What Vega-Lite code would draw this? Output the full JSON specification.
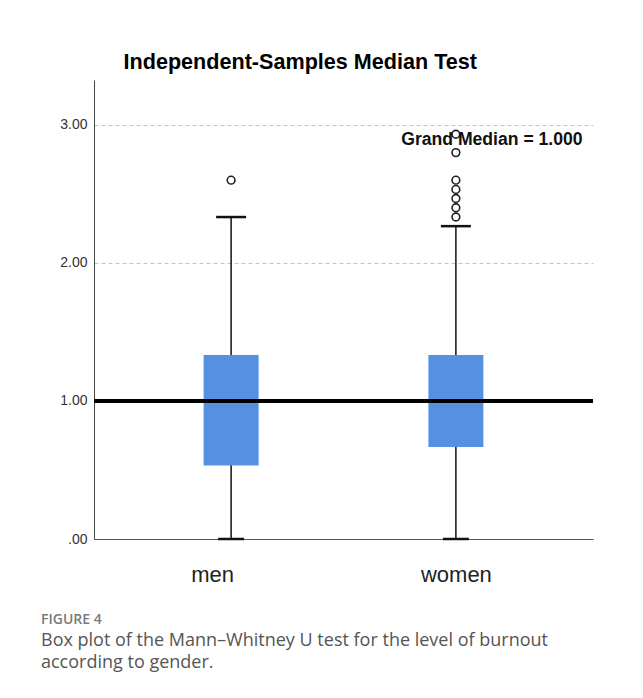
{
  "$schema": "https://vega.github.io/schema/vega-lite/v6.json",
  "width": 499,
  "height": 459,
  "autosize": {"type": "none"},
  "padding": {"left": 94, "top": 80, "right": 50, "bottom": 159},
  "background": "white",
  "config": {"view": {"stroke": null}, "font": "Liberation Sans"},
  "title": {
    "text": "FIGURE 4",
    "subtitle": ["Box plot of the Mann–Whitney U test for the level of burnout", "according to gender."],
    "orient": "bottom",
    "anchor": "start",
    "frame": "group",
    "dx": -53,
    "offset": 28,
    "font": "Open Sans",
    "fontSize": 14,
    "fontWeight": 600,
    "color": "#7a7a7a",
    "subtitleFont": "Open Sans",
    "subtitleFontSize": 18,
    "subtitleColor": "#555555",
    "subtitleLineHeight": 22,
    "subtitlePadding": 5
  },
  "datasets": {
    "summary": [
      {"gender": "men", "lower": 0, "q1": 0.533, "q3": 1.333, "upper": 2.333},
      {"gender": "women", "lower": 0, "q1": 0.667, "q3": 1.333, "upper": 2.267}
    ],
    "outliers": [
      {"gender": "men", "value": 2.6},
      {"gender": "women", "value": 2.333},
      {"gender": "women", "value": 2.4},
      {"gender": "women", "value": 2.467},
      {"gender": "women", "value": 2.533},
      {"gender": "women", "value": 2.6},
      {"gender": "women", "value": 2.8},
      {"gender": "women", "value": 2.933}
    ],
    "grand": [{"label": "Grand Median = 1.000", "median": 1, "labelPos": 2.89}]
  },
  "layer": [
    {
      "data": {"name": "summary"},
      "mark": {"type": "rule", "color": "#111", "strokeWidth": 1.5},
      "encoding": {
        "x": {
          "field": "gender", "type": "nominal",
          "scale": {"type": "point", "padding": 0.61, "domain": ["men", "women"]},
          "axis": {
            "title": null, "labelAngle": 0, "labelFontSize": 22, "labelColor": "#222",
            "labelPadding": 25, "ticks": false, "domainColor": "#555", "labelFont": "Liberation Sans",
            "labelOffset": {"condition": {"test": "datum.value === 'men'", "value": -19}, "value": 0}
          }
        },
        "y": {
          "field": "lower", "type": "quantitative",
          "scale": {"domain": [0, 3.326], "nice": false, "zero": true},
          "axis": {
            "title": "Independent-Samples Median Test",
            "titleAngle": 0, "titleAlign": "left", "titleBaseline": "middle",
            "titleX": 29, "titleY": -18, "titleFontSize": 21.6, "titleFontWeight": "bold",
            "titleColor": "#000", "titleFont": "Liberation Sans",
            "values": [0, 1, 2, 3],
            "labelExpr": "datum.value == 0 ? '.00' : format(datum.value, '.2f')",
            "labelFontSize": 14, "labelColor": "#333", "labelPadding": 7, "ticks": false,
            "domainColor": "#444", "grid": true, "gridColor": "#c4c4c4", "gridDash": [4, 3], "gridWidth": 1
          }
        },
        "y2": {"field": "upper"}
      }
    },
    {
      "data": {"name": "summary"},
      "mark": {"type": "bar", "width": 55, "color": "#5590e3"},
      "encoding": {
        "x": {"field": "gender", "type": "nominal"},
        "y": {"field": "q1", "type": "quantitative"},
        "y2": {"field": "q3"}
      }
    },
    {
      "data": {"name": "summary"},
      "mark": {"type": "tick", "size": 30, "thickness": 2.5, "color": "#111", "opacity": 1},
      "encoding": {
        "x": {"field": "gender", "type": "nominal"},
        "y": {"field": "upper", "type": "quantitative"}
      }
    },
    {
      "data": {"name": "summary"},
      "mark": {"type": "tick", "size": 26, "thickness": 2.5, "color": "#111", "opacity": 1},
      "encoding": {
        "x": {"field": "gender", "type": "nominal"},
        "y": {"field": "lower", "type": "quantitative"}
      }
    },
    {
      "data": {"name": "outliers"},
      "mark": {"type": "point", "shape": "circle", "filled": false, "size": 60, "strokeWidth": 1.6, "color": "#222", "opacity": 1},
      "encoding": {
        "x": {"field": "gender", "type": "nominal"},
        "y": {"field": "value", "type": "quantitative"}
      }
    },
    {
      "data": {"name": "grand"},
      "mark": {"type": "rule", "color": "#000", "strokeWidth": 4},
      "encoding": {"y": {"field": "median", "type": "quantitative"}}
    },
    {
      "data": {"name": "grand"},
      "mark": {"type": "text", "fontSize": 17.6, "fontWeight": "bold", "font": "Liberation Sans", "dx": 36, "align": "center", "baseline": "middle", "color": "#111"},
      "encoding": {
        "x": {"datum": "women"},
        "y": {"field": "labelPos", "type": "quantitative"},
        "text": {"field": "label"}
      }
    }
  ]
}
